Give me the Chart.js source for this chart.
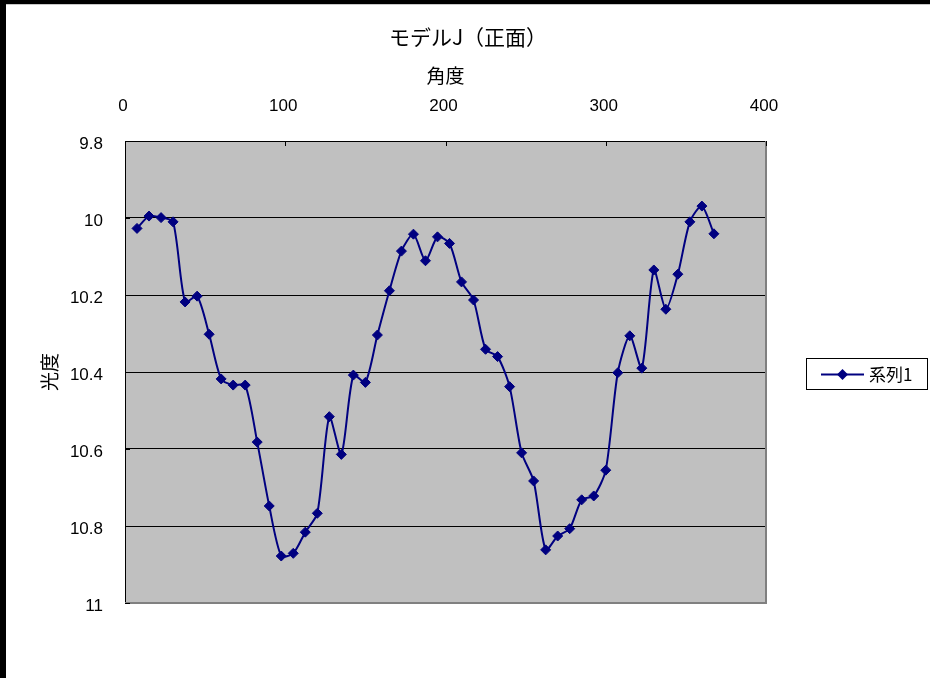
<!DOCTYPE html>
<html>
<head>
<meta charset="utf-8">
<script src="https://cdn.jsdelivr.net/npm/chart.js@4/dist/chart.umd.min.js"></script>
<style>
  html, body { margin: 0; padding: 0; background: #000; width: 930px; height: 678px; overflow: hidden; }
  #wrap { position: absolute; left: 6px; top: 4px; width: 924px; height: 673px; background: #fff; border-top: 1px solid #c8c8c8; }
  canvas { display: block; }
</style>
</head>
<body>
<div id="wrap"><canvas id="chart" width="924" height="673"></canvas></div>
<script>
// 角度 (deg) and 光度 measured for モデルJ, front view
const angles = [
  7.5, 15, 22.5, 30, 37.5, 45, 52.5, 60, 67.5, 75,
  82.5, 90, 97.5, 105, 112.5, 120, 127.5, 135, 142.5, 150,
  157.5, 165, 172.5, 180, 187.5, 195, 202.5, 210, 217.5, 225,
  232.5, 240, 247.5, 255, 262.5, 270, 277.5, 285, 292.5, 300,
  307.5, 315, 322.5, 330, 337.5, 345, 352.5, 360, 367.5
];
const brightness = [
  10.027, 9.995, 9.999, 10.010, 10.218, 10.203, 10.302, 10.418, 10.434, 10.434,
  10.582, 10.748, 10.878, 10.871, 10.816, 10.767, 10.516, 10.614, 10.408, 10.427,
  10.304, 10.189, 10.086, 10.042, 10.111, 10.049, 10.066, 10.166, 10.213, 10.341,
  10.360, 10.438, 10.610, 10.683, 10.862, 10.826, 10.807, 10.732, 10.722, 10.655,
  10.402, 10.306, 10.390, 10.135, 10.237, 10.146, 10.010, 9.969, 10.041
];
const seriesName = '系列1';
const chartTitle = 'モデルJ（正面）';
const xTitle = '角度';
const yTitle = '光度';

const NAVY = '#000080';
const numFont = { family: '"Liberation Sans", Arial, sans-serif', size: 17 };
const cjkFont = { family: '"Noto Sans CJK JP", sans-serif', size: 19 };

// grey plot background
const plotBackground = {
  id: 'plotBackground',
  beforeDraw(chart) {
    const { ctx, chartArea: a } = chart;
    ctx.save();
    ctx.fillStyle = '#c0c0c0';
    ctx.fillRect(a.left, a.top, a.right - a.left, a.bottom - a.top);
    ctx.restore();
  }
};

// frame on the right/bottom edges and short inward tick marks
const plotFrame = {
  id: 'plotFrame',
  beforeDatasetsDraw(chart) {
    const { ctx, chartArea: a, scales } = chart;
    ctx.save();
    ctx.strokeStyle = '#808080';
    ctx.lineWidth = 2;
    ctx.beginPath();
    ctx.moveTo(a.left, a.bottom);
    ctx.lineTo(a.right, a.bottom);
    ctx.lineTo(a.right, a.top);
    ctx.stroke();
    ctx.strokeStyle = '#000';
    ctx.lineWidth = 1;
    ctx.beginPath();
    scales.x.ticks.forEach(t => {
      const px = Math.round(scales.x.getPixelForValue(t.value)) + 0.5;
      ctx.moveTo(px, a.top);
      ctx.lineTo(px, a.top + 5);
    });
    scales.y.ticks.forEach(t => {
      const py = Math.round(scales.y.getPixelForValue(t.value)) + 0.5;
      ctx.moveTo(a.left, py);
      ctx.lineTo(a.left + 5, py);
    });
    ctx.stroke();
    ctx.restore();
  }
};

// boxed legend to the right of the plot
const boxedLegend = {
  id: 'boxedLegend',
  afterDraw(chart) {
    const { ctx } = chart;
    const ds = chart.data.datasets[0];
    const bx = 800, by = 353, bw = 122, bh = 32;
    const cy = by + bh / 2 + 0.5;
    ctx.save();
    ctx.fillStyle = '#fff';
    ctx.fillRect(bx, by, bw, bh);
    ctx.strokeStyle = '#000';
    ctx.lineWidth = 1;
    ctx.strokeRect(bx + 0.5, by + 0.5, bw - 1, bh - 1);
    ctx.strokeStyle = ds.borderColor;
    ctx.lineWidth = 2;
    ctx.beginPath();
    ctx.moveTo(815, cy);
    ctx.lineTo(858, cy);
    ctx.stroke();
    ctx.fillStyle = ds.backgroundColor;
    ctx.beginPath();
    ctx.moveTo(836.5, cy - 5.5); ctx.lineTo(842, cy); ctx.lineTo(836.5, cy + 5.5); ctx.lineTo(831, cy); ctx.closePath();
    ctx.fill();
    ctx.fillStyle = '#000';
    ctx.font = '17px "Noto Sans CJK JP", sans-serif';
    ctx.textBaseline = 'middle';
    ctx.textAlign = 'left';
    ctx.fillText(ds.label, 863, cy);
    ctx.restore();
  }
};

new Chart(document.getElementById('chart'), {
  type: 'scatter',
  data: {
    datasets: [{
      label: seriesName,
      data: angles.map((a, i) => ({ x: a, y: brightness[i] })),
      showLine: true,
      borderColor: NAVY,
      backgroundColor: NAVY,
      borderWidth: 2,
      tension: 0.25,
      pointStyle: 'rectRot',
      pointRadius: 5,
      pointBorderWidth: 1,
      pointBorderColor: NAVY,
      pointBackgroundColor: NAVY
    }]
  },
  options: {
    responsive: false,
    animation: false,
    devicePixelRatio: 1,
    layout: { padding: { left: 0, right: 0, top: 0, bottom: 75 } },
    plugins: {
      legend: { display: false },
      tooltip: { enabled: false },
      title: {
        display: true,
        text: chartTitle,
        color: '#000',
        font: { family: cjkFont.family, size: 21, weight: 'normal', lineHeight: '24px' },
        padding: { top: 20, bottom: 0 }
      }
    },
    scales: {
      x: {
        type: 'linear',
        position: 'top',
        min: 0,
        max: 400,
        ticks: { stepSize: 100, color: '#000', font: numFont, padding: 16, labelOffset: -2, maxRotation: 0 },
        grid: { display: false },
        border: { display: true, color: '#000', width: 1 },
        title: { display: true, text: xTitle, color: '#000', font: cjkFont, padding: { top: 15, bottom: 0 } },
        afterFit(scale) { scale.height = 92; }
      },
      y: {
        type: 'linear',
        position: 'left',
        reverse: true,
        min: 9.8,
        max: 11,
        ticks: {
          stepSize: 0.2, color: '#000', font: numFont, padding: 22, labelOffset: 3,
          callback: v => String(+v.toFixed(1))
        },
        grid: { color: '#000', lineWidth: 1, drawTicks: false },
        border: { display: true, color: '#000', width: 1 },
        title: { display: true, text: yTitle, color: '#000', font: cjkFont, padding: { top: 32, bottom: 0 } },
        afterFit(scale) { scale.width = 119; }
      },
      // empty right-hand column that holds the legend
      legendSpace: {
        type: 'linear',
        position: 'right',
        display: true,
        ticks: { display: false },
        grid: { display: false },
        border: { display: false },
        afterFit(scale) { scale.width = 164; }
      }
    }
  },
  plugins: [plotBackground, plotFrame, boxedLegend]
});
</script>
</body>
</html>
